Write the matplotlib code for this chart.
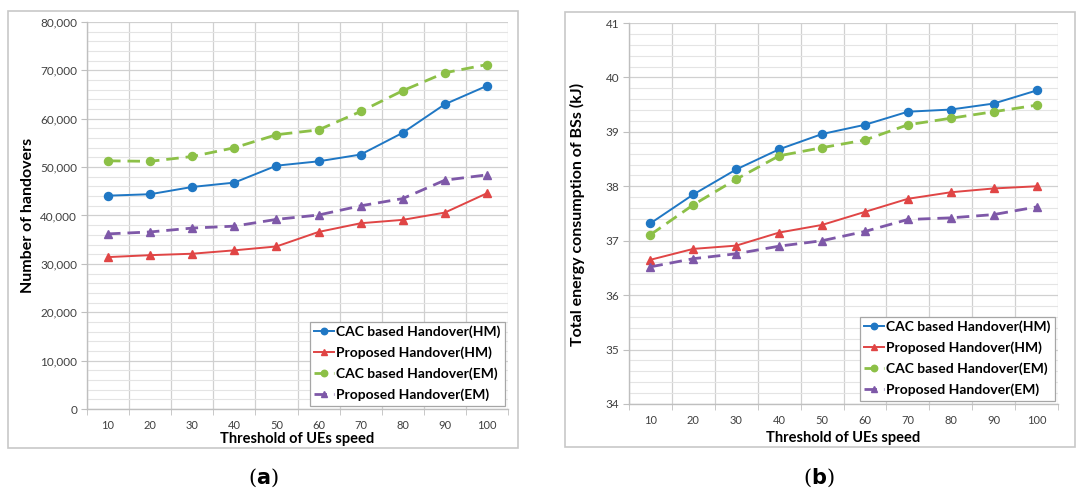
import matplotlib
matplotlib.use('Agg')
import matplotlib.pyplot as plt
from matplotlib.ticker import FixedLocator, MultipleLocator, FuncFormatter
from matplotlib.patches import Rectangle

plt.rcParams['font.family'] = ['Lato', 'DejaVu Sans']

# 데이터
speed = [10, 20, 30, 40, 50, 60, 70, 80, 90, 100]
series_names = ['CAC based Handover(HM)', 'Proposed Handover(HM)',
                'CAC based Handover(EM)', 'Proposed Handover(EM)']

# (a) 핸드오버 횟수
ho_cac_hm = [44100, 44400, 45900, 46800, 50300, 51200, 52600, 57100, 63000, 66800]
ho_prop_hm = [31400, 31800, 32100, 32800, 33600, 36600, 38400, 39100, 40600, 44600]
ho_cac_em = [51300, 51200, 52200, 54000, 56700, 57700, 61500, 65800, 69500, 71200]
ho_prop_em = [36200, 36600, 37400, 37800, 39200, 40100, 42000, 43500, 47300, 48400]

# (b) 에너지 소비량 (kJ)
en_cac_hm = [37.32, 37.85, 38.31, 38.68, 38.96, 39.13, 39.37, 39.41, 39.52, 39.76]
en_prop_hm = [36.65, 36.85, 36.91, 37.15, 37.29, 37.53, 37.77, 37.89, 37.96, 38.00]
en_cac_em = [37.11, 37.66, 38.13, 38.56, 38.71, 38.85, 39.13, 39.25, 39.37, 39.49]
en_prop_em = [36.52, 36.67, 36.76, 36.90, 37.00, 37.17, 37.39, 37.42, 37.48, 37.62]

colors = ['#1f77c4', '#e04545', '#8cc047', '#7e58a8']
markers = ['o', '^', 'o', '^']
dashed = [False, False, True, True]

fig = plt.figure(figsize=(10.78, 4.95), dpi=100)
W, H = 1078, 495

def px_axes(x0, y0, x1, y1):
    return fig.add_axes([x0 / W, 1 - y1 / H, (x1 - x0) / W, (y1 - y0) / H])

def outer_box(x0, y0, x1, y1):
    fig.patches.append(Rectangle((x0 / W, 1 - y1 / H), (x1 - x0) / W, (y1 - y0) / H,
                                 transform=fig.transFigure, fill=False,
                                 edgecolor='#c8c8c8', lw=1.2))

def draw_panel(ax, data, ylim, ymajor, yminor, fmt):
    for vals, name, c, m, d in zip(data, series_names, colors, markers, dashed):
        if d:
            ax.plot(speed, vals, color=c, lw=2.0, ls=(0, (4.5, 2.5)), marker=m,
                    markersize=5.8, label=name, zorder=3)
        else:
            ax.plot(speed, vals, color=c, lw=1.4, marker=m, markersize=5.8,
                    label=name, zorder=3)
    ax.set_xlim(5, 105)
    ax.set_ylim(*ylim)
    ax.set_xticks(speed)
    ax.xaxis.set_minor_locator(FixedLocator([5 + 10 * i for i in range(11)]))
    ax.yaxis.set_major_locator(MultipleLocator(ymajor))
    ax.yaxis.set_minor_locator(MultipleLocator(yminor))
    ax.yaxis.set_major_formatter(FuncFormatter(fmt))
    ax.grid(which='major', axis='y', color='#d0d0d0', lw=0.9)
    ax.grid(which='minor', axis='y', color='#e4e4e4', lw=0.8)
    ax.grid(which='minor', axis='x', color='#d0d0d0', lw=0.9)
    ax.set_axisbelow(True)
    for s in ['top', 'right']:
        ax.spines[s].set_visible(False)
    for s in ['left', 'bottom']:
        ax.spines[s].set_color('#bfbfbf')
        ax.spines[s].set_linewidth(1.0)
    ax.tick_params(axis='x', which='major', length=0, pad=8, labelsize=8, colors='#404040')
    ax.tick_params(axis='x', which='minor', length=4, color='#bfbfbf')
    ax.tick_params(axis='y', which='major', length=4, color='#bfbfbf', labelsize=8.5,
                   colors='#404040', pad=3)
    ax.tick_params(axis='y', which='minor', length=0)
    leg = ax.legend(loc='lower right', bbox_to_anchor=(1.0, 0.0), borderaxespad=0.25,
                    fancybox=False, edgecolor='#a6a6a6', framealpha=1,
                    prop={'weight': 'bold', 'size': 10}, handlelength=1.4,
                    handletextpad=0.15, labelspacing=0.6, markerscale=0.8,
                    borderpad=0.3)
    leg.get_frame().set_linewidth(0.9)

# (a)
outer_box(8, 11, 518, 448)
ax1 = px_axes(87, 22, 508, 409)
draw_panel(ax1, [ho_cac_hm, ho_prop_hm, ho_cac_em, ho_prop_em], (0, 80000), 10000, 2000,
           lambda v, p: '{:,.0f}'.format(v))
fig.text(28 / W, 1 - 215 / H, 'Number of handovers', rotation=90, ha='center', va='center',
         fontsize=11.5, fontweight='bold')
fig.text(297 / W, 1 - 439 / H, 'Threshold of UEs speed', ha='center', va='center',
         fontsize=10.5, fontweight='bold')

# (b)
outer_box(565, 12, 1075, 447)
ax2 = px_axes(629, 23, 1058, 404)
draw_panel(ax2, [en_cac_hm, en_prop_hm, en_cac_em, en_prop_em], (34, 41), 1, 0.2,
           lambda v, p: '{:.0f}'.format(v))
fig.text(577 / W, 1 - 214 / H, 'Total energy consumption of BSs (kJ)', rotation=90,
         ha='center', va='center', fontsize=11.5, fontweight='bold')
fig.text(843 / W, 1 - 438 / H, 'Threshold of UEs speed', ha='center', va='center',
         fontsize=10.5, fontweight='bold')

# 캡션
for x, letter in [(263, 'a'), (819, 'b')]:
    fig.text(x / W, 1 - 478 / H, r'(' + r'$\mathbf{' + letter + '}$' + ')', ha='center',
             va='center', fontsize=15, family='DejaVu Serif')

fig.savefig('out.png', dpi=100)
